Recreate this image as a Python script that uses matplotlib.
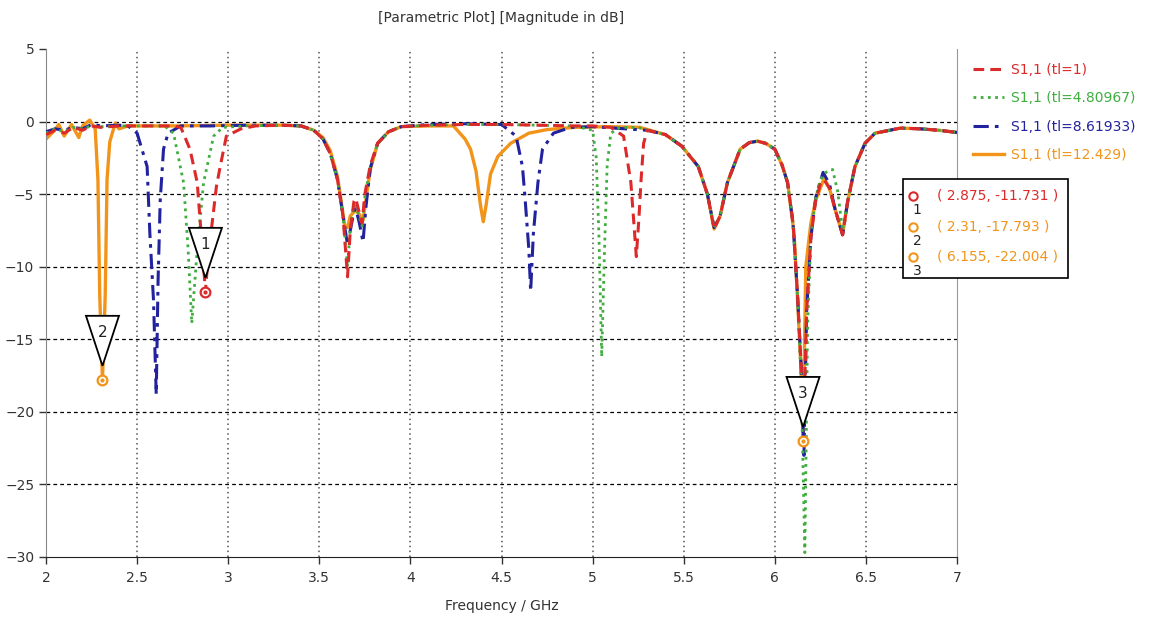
import numpy as np
import matplotlib.pyplot as plt
from matplotlib.patches import Polygon, Rectangle
from matplotlib.transforms import ScaledTranslation

## S11 curves (frequency in GHz, magnitude in dB)
f_tl1 = [2.00, 2.05, 2.10, 2.15, 2.20, 2.25, 2.30, 2.40, 2.50, 2.60, 2.70, 2.74,
         2.79, 2.83, 2.85, 2.875, 2.895, 2.91, 2.935, 2.956, 2.99, 3.07, 3.15,
         3.30, 3.40, 3.47, 3.52, 3.56, 3.60, 3.63, 3.655, 3.67, 3.69, 3.70,
         3.72, 3.735, 3.75, 3.78, 3.82, 3.88, 3.95, 4.10, 4.30, 4.50, 4.70,
         4.90, 5.00, 5.10, 5.17, 5.21, 5.24, 5.255, 5.265, 5.28, 5.30, 5.40,
         5.49, 5.58, 5.63, 5.667, 5.70, 5.74, 5.81, 5.86, 5.905, 5.95, 6.00,
         6.04, 6.07, 6.10, 6.125, 6.145, 6.16, 6.175, 6.198, 6.225, 6.25,
         6.27, 6.30, 6.33, 6.372, 6.40, 6.44, 6.495, 6.55, 6.69, 6.80, 6.90,
         7.00]
s_tl1 = [-0.9, -0.6, -0.8, -0.4, -0.6, -0.3, -0.4, -0.3, -0.3, -0.3, -0.3, -0.4,
         -1.9, -4.2, -7.5, -11.7, -8.5, -7.2, -4.5, -3.1, -1.0, -0.5, -0.3,
         -0.25, -0.3, -0.6, -1.2, -2.2, -4.0, -6.5, -10.7, -7.5, -5.5, -5.3,
         -6.3, -7.0, -5.0, -3.0, -1.5, -0.7, -0.35, -0.25, -0.2, -0.2, -0.25,
         -0.3, -0.3, -0.4, -1.0, -4.2, -9.3, -6.5, -4.2, -1.5, -0.6, -0.9,
         -1.7, -3.1, -5.0, -7.4, -6.5, -4.2, -1.9, -1.45, -1.35, -1.5, -1.9,
         -3.0, -4.2, -7.0, -12.0, -17.0, -20.0, -13.0, -8.0, -5.4, -4.3,
         -4.0, -4.6, -6.0, -7.8, -5.5, -3.1, -1.5, -0.8, -0.45, -0.5, -0.6,
         -0.75]

f_tl2 = [2.00, 2.05, 2.10, 2.15, 2.20, 2.25, 2.30, 2.40, 2.50, 2.65, 2.70,
         2.755, 2.78, 2.80, 2.83, 2.865, 2.92, 2.97, 3.10, 3.30, 3.40, 3.47,
         3.52, 3.56, 3.60, 3.63, 3.655, 3.67, 3.69, 3.70, 3.72, 3.735, 3.75,
         3.78, 3.82, 3.88, 3.95, 4.10, 4.30, 4.50, 4.70, 4.90, 5.00, 5.02,
         5.035, 5.05, 5.065, 5.08, 5.10, 5.15, 5.25, 5.30, 5.40, 5.49, 5.58,
         5.63, 5.667, 5.70, 5.74, 5.81, 5.86, 5.905, 5.95, 6.00, 6.04, 6.07,
         6.10, 6.125, 6.145, 6.165, 6.18, 6.198, 6.225, 6.25, 6.28, 6.317,
         6.345, 6.372, 6.40, 6.44, 6.495, 6.55, 6.69, 6.80, 6.90, 7.00]
s_tl2 = [-0.8, -0.5, -0.7, -0.4, -0.5, -0.3, -0.35, -0.3, -0.3, -0.3, -0.8,
         -4.2, -8.8, -13.9, -8.8, -4.2, -1.0, -0.4, -0.3, -0.25, -0.3, -0.6,
         -1.2, -2.2, -4.0, -6.5, -10.0, -7.3, -5.8, -5.8, -6.6, -7.2, -5.2,
         -3.1, -1.5, -0.7, -0.35, -0.25, -0.2, -0.2, -0.25, -0.3, -0.6, -2.5,
         -8.0, -16.2, -9.0, -3.0, -0.8, -0.4, -0.4, -0.6, -0.9, -1.7, -3.1,
         -5.0, -7.3, -6.5, -4.2, -1.9, -1.45, -1.35, -1.5, -1.9, -3.0, -4.2,
         -7.0, -12.0, -18.0, -29.7, -14.0, -8.0, -5.2, -4.0, -3.5, -3.3,
         -4.8, -7.5, -5.5, -3.1, -1.5, -0.8, -0.45, -0.5, -0.6, -0.75]

f_tl3 = [2.00, 2.05, 2.10, 2.15, 2.20, 2.25, 2.30, 2.40, 2.45, 2.50, 2.555,
         2.57, 2.59, 2.605, 2.615, 2.627, 2.645, 2.67, 2.74, 2.90, 3.10, 3.30,
         3.40, 3.47, 3.52, 3.56, 3.60, 3.63, 3.655, 3.67, 3.69, 3.70, 3.72,
         3.74, 3.755, 3.78, 3.82, 3.88, 3.95, 4.10, 4.30, 4.50, 4.58, 4.615,
         4.63, 4.65, 4.66, 4.675, 4.70, 4.725, 4.785, 4.88, 5.00, 5.30, 5.40,
         5.49, 5.58, 5.63, 5.667, 5.70, 5.74, 5.81, 5.86, 5.905, 5.95, 6.00,
         6.04, 6.07, 6.10, 6.125, 6.145, 6.16, 6.175, 6.198, 6.225, 6.265,
         6.30, 6.33, 6.372, 6.40, 6.44, 6.495, 6.55, 6.69, 6.80, 6.90, 7.00]
s_tl3 = [-0.7, -0.5, -0.6, -0.4, -0.5, -0.2, -0.3, -0.25, -0.3, -0.8, -3.1,
         -7.7, -12.3, -18.8, -11.0, -5.4, -1.9, -0.8, -0.3, -0.3, -0.25, -0.25,
         -0.3, -0.6, -1.2, -2.2, -4.0, -6.5, -8.5, -7.5, -6.2, -6.0, -7.0,
         -8.3, -6.0, -3.2, -1.5, -0.7, -0.35, -0.2, -0.15, -0.2, -1.0, -3.1,
         -5.4, -8.8, -11.7, -7.7, -4.2, -1.9, -0.8, -0.4, -0.35, -0.6, -0.9,
         -1.7, -3.1, -5.0, -7.3, -6.5, -4.2, -1.9, -1.45, -1.35, -1.5, -1.9,
         -3.0, -4.2, -7.0, -12.0, -17.0, -23.0, -13.0, -8.0, -5.2, -3.5,
         -4.3, -6.0, -7.8, -5.5, -3.1, -1.5, -0.8, -0.45, -0.5, -0.6, -0.75]

f_tl4 = [2.00, 2.04, 2.07, 2.10, 2.14, 2.18, 2.20, 2.24, 2.27, 2.285, 2.295,
         2.31, 2.325, 2.335, 2.35, 2.38, 2.40, 2.45, 2.50, 2.70, 3.00, 3.30,
         3.40, 3.47, 3.52, 3.56, 3.60, 3.64, 3.655, 3.67, 3.70, 3.72, 3.74,
         3.76, 3.78, 3.82, 3.88, 3.95, 4.10, 4.236, 4.30, 4.33, 4.36, 4.385,
         4.40, 4.415, 4.44, 4.48, 4.55, 4.65, 4.75, 4.90, 5.10, 5.26, 5.40,
         5.49, 5.58, 5.63, 5.667, 5.70, 5.74, 5.81, 5.86, 5.905, 5.95, 6.00,
         6.04, 6.07, 6.106, 6.125, 6.143, 6.155, 6.17, 6.198, 6.225, 6.271,
         6.30, 6.33, 6.372, 6.40, 6.44, 6.495, 6.55, 6.69, 6.80, 6.90, 7.00]
s_tl4 = [-1.2, -0.7, -0.2, -1.0, -0.2, -1.1, -0.3, 0.1, -0.5, -4.0, -12.0,
         -17.8, -12.0, -4.0, -1.4, -0.1, -0.5, -0.3, -0.3, -0.3, -0.25, -0.25,
         -0.3, -0.6, -1.1, -2.0, -3.8, -7.2, -7.3, -6.5, -6.1, -6.4, -6.8,
         -5.0, -3.3, -1.5, -0.7, -0.35, -0.3, -0.3, -1.2, -1.9, -3.4, -5.8,
         -6.9, -5.8, -3.6, -2.4, -1.5, -0.8, -0.55, -0.4, -0.35, -0.4, -0.9,
         -1.7, -3.1, -5.0, -7.4, -6.5, -4.2, -1.9, -1.45, -1.35, -1.5, -1.9,
         -3.0, -4.2, -7.7, -12.3, -16.8, -22.0, -10.0, -7.0, -5.4, -3.9,
         -4.6, -6.0, -7.8, -5.5, -3.1, -1.5, -0.8, -0.45, -0.5, -0.6, -0.75]

labels = ['S1,1 (tl=1)', 'S1,1 (tl=4.80967)', 'S1,1 (tl=8.61933)', 'S1,1 (tl=12.429)']
colors = ['#dc2a2a', '#3fae3f', '#22229e', '#f29419']

## curve markers: (frequency, value, series index)
mk_f = [2.875, 2.31, 6.155]
mk_s = [-11.731, -17.793, -22.004]
mk_series = [0, 3, 3]

fig = plt.figure(figsize=(11.63, 6.25), dpi=100)
ax = fig.add_axes([46/1163, 1-557/625, (957-46)/1163, (557-49)/625])

## orange goes underneath, dashed ones on top
ax.plot(f_tl4, s_tl4, '-', color=colors[3], lw=2.4, label=labels[3], zorder=2)
ax.plot(f_tl3, s_tl3, color=colors[2], lw=2.2, ls=(0, (5, 2, 1.2, 2)), label=labels[2], zorder=3)
ax.plot(f_tl2, s_tl2, color=colors[1], lw=2.0, ls=(0, (1, 1.6)), label=labels[1], zorder=3)
ax.plot(f_tl1, s_tl1, color=colors[0], lw=2.2, ls=(0, (3.5, 2)), label=labels[0], zorder=3)

ax.set_xlim(2, 7)
ax.set_ylim(-30, 5)
ax.set_xticks(np.arange(2, 7.01, 0.5))
ax.set_xticklabels(['2', '2.5', '3', '3.5', '4', '4.5', '5', '5.5', '6', '6.5', '7'])
ax.set_yticks(np.arange(-30, 5.01, 5))
ax.tick_params(labelsize=10, colors='#333333', length=5, width=1)
ax.tick_params(axis='x', pad=5)
for y in range(-25, 5, 5):
	ax.axhline(y, color='black', lw=0.9, ls=(0, (3, 2.5)), zorder=1)
for x in np.arange(2.5, 7, 0.5):
	ax.axvline(x, color='#555555', lw=1.1, ls=(0, (1, 2.2)), zorder=1)
ax.spines['top'].set_visible(False)
ax.spines['left'].set_color('#888888')
ax.spines['right'].set_color('#999999')
ax.spines['bottom'].set_color('#222222')
ax.set_xlabel('Frequency / GHz', fontsize=10, color='#333333', labelpad=10)
fig.text(501/1163, 1-18/625, '[Parametric Plot] [Magnitude in dB]', ha='center', va='center',
	fontsize=10, color='#333333')

## triangle flags over the markers, sizes in inches
for i in range(3):
	tr = fig.dpi_scale_trans + ScaledTranslation(mk_f[i], mk_s[i], ax.transData)
	tri = Polygon([(0, 0.14), (-0.165, 0.64), (0.165, 0.64)], closed=True,
		facecolor='white', edgecolor='black', lw=1.3, transform=tr, zorder=5)
	ax.add_patch(tri)
	ax.text(0, 0.47, str(i+1), transform=tr, ha='center', va='center', fontsize=11,
		color='#222222', zorder=6)
	c = colors[mk_series[i]]
	ax.plot(mk_f[i], mk_s[i], 'o', ms=7, mfc='white', mec=c, mew=1.6, zorder=6)
	ax.plot(mk_f[i], mk_s[i], 'o', ms=2, color=c, zorder=7)

## legend on the right
h, l = ax.get_legend_handles_labels()
order = [3, 2, 1, 0]
leg = fig.legend([h[k] for k in order], [l[k] for k in order], loc='upper left',
	bbox_to_anchor=(960/1163, 1-50/625), frameon=False, fontsize=10,
	handlelength=2.3, handletextpad=0.5, labelspacing=1.05, labelcolor='linecolor')

## marker readout box
box = Rectangle((903/1163, 1-278/625), (1068-903)/1163, (278-179)/625, transform=fig.transFigure,
	facecolor='white', edgecolor='black', lw=1.2, zorder=10)
fig.add_artist(box)
row_y = [196, 227, 257]
for i in range(3):
	c = colors[mk_series[i]]
	yy = 1-row_y[i]/625
	fig.text(937/1163, yy, '( %g, %g )' % (mk_f[i], mk_s[i]), fontsize=10, color=c,
		va='center', ha='left', zorder=11)
	fig.add_artist(plt.Line2D([913/1163], [yy], marker='o', ms=6, mfc='white', mec=c, mew=1.5,
		transform=fig.transFigure, zorder=11))
	fig.text(917/1163, 1-(row_y[i]+14)/625, str(i+1), fontsize=10, color='#222222',
		va='center', ha='center', zorder=11)

plt.savefig('out.png', dpi=100)
